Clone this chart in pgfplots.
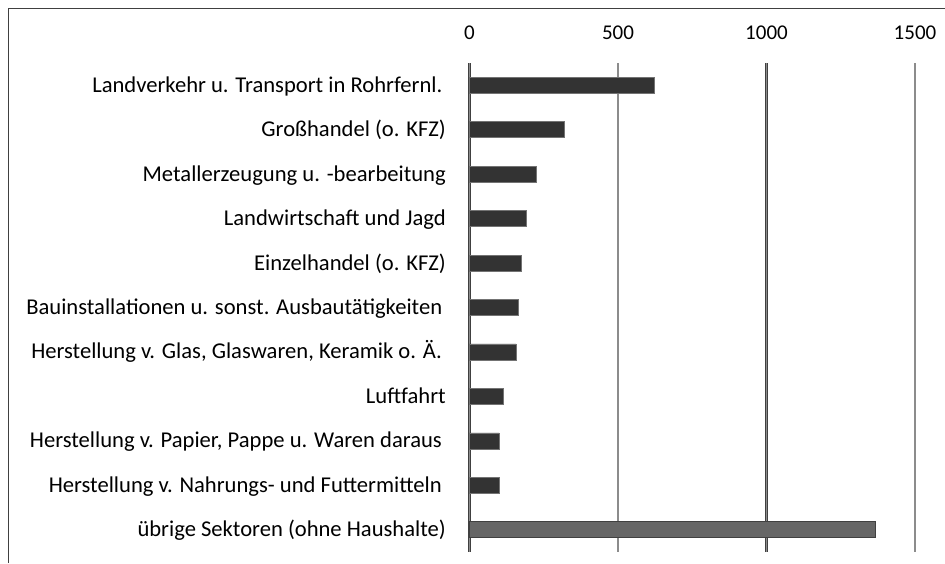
\documentclass[border=0pt]{standalone}
\usepackage{fontspec}
\setmainfont{Carlito}
\usepackage{pgfplots}
\pgfplotsset{compat=1.18}
\definecolor{barc}{HTML}{333333}
\definecolor{barlast}{HTML}{666666}
\begin{document}
\begin{tikzpicture}
\path[use as bounding box] (0,0) rectangle (945pt,-563pt);
\draw[black!75, line width=1pt] (8pt,-563pt) -- (8pt,-8pt) -- (946pt,-8pt);
\begin{axis}[
  at={(469.5pt,-63pt)}, anchor=north west,
  scale only axis, width=445.5pt, height=489pt,
  xmin=0, xmax=1500, ymin=-0.5, ymax=10.5, y dir=reverse,
  xtick={0,500,1000,1500},
  ytick={0,...,10},
  yticklabels={
    {Landverkehr u. Transport in Rohrfernl.\hspace*{3.5pt}},
    {Großhandel (o. KFZ)},
    {Metallerzeugung u. -bearbeitung},
    {Landwirtschaft und Jagd},
    {Einzelhandel (o. KFZ)},
    {Bauinstallationen u. sonst. Ausbautätigkeiten\hspace*{3.5pt}},
    {Herstellung v. Glas, Glaswaren, Keramik o. Ä.\hspace*{4pt}},
    {Luftfahrt},
    {Herstellung v. Papier, Pappe u. Waren daraus\hspace*{4pt}},
    {Herstellung v. Nahrungs- und Futtermitteln\hspace*{4pt}},
    {übrige Sektoren (ohne Haushalte)}},
  xticklabel pos=upper,
  /pgf/number format/assume math mode=true,
  /pgf/number format/1000 sep={},
  xticklabel style={font=\fontsize{21}{24}\selectfont, anchor=base, inner sep=0pt, yshift=24pt},
  yticklabel style={font=\fontsize{22.6}{26}\selectfont, anchor=base east, inner sep=0pt, xshift=-23.5pt, yshift=-7pt},
  axis line style={draw=none},
  major tick length=0pt,
  tick style={draw=none},
  xmajorgrids=true,
  major grid style={draw=black!75, line width=0.7pt, double=black!45, double distance=1.4pt},
  clip=false,
]
\addplot[xbar, bar width=16pt, bar shift=0pt, fill=barc, draw=black!55, line width=0.6pt]
  coordinates {(622,0) (318,1) (224,2) (190,3) (174,4) (163,5) (157,6) (114,7) (100,8) (99,9)};
\addplot[xbar, bar width=16pt, bar shift=0pt, fill=barlast, draw=black!75, line width=0.6pt]
  coordinates {(1365,10)};
\end{axis}
\end{tikzpicture}
\end{document}
